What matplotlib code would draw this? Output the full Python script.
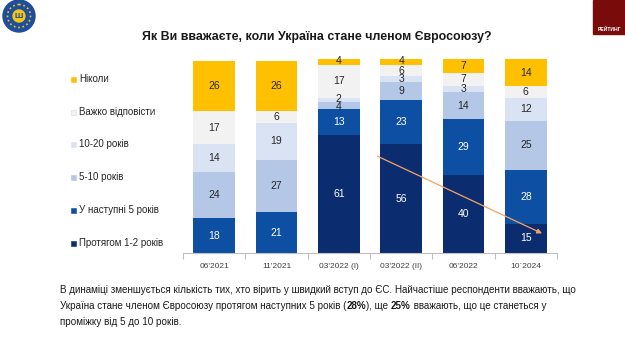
import matplotlib.pyplot as plt
import numpy as np
from matplotlib.patches import Rectangle, Circle

plt.rcParams['font.family'] = ['Liberation Sans', 'DejaVu Sans']

# Data
periods = ["06'2021", "11'2021", "03'2022 (I)", "03'2022 (II)", "06'2022", "10`2024"]
series_names = ['Протягом 1-2 років', 'У наступні 5 років', '5-10 років',
                '10-20 років', 'Важко відповісти', 'Ніколи']
within_1_2 = [0, 0, 61, 56, 40, 15]
next_5 = [18, 21, 13, 23, 29, 28]
years_5_10 = [24, 27, 4, 9, 14, 25]
years_10_20 = [14, 19, 2, 3, 3, 12]
hard_to_say = [17, 6, 17, 6, 7, 6]
never = [26, 26, 4, 4, 7, 14]

values = [within_1_2, next_5, years_5_10, years_10_20, hard_to_say, never]
colors = ['#0B2D70', '#0D4FA3', '#B4C7E7', '#DAE3F3', '#F2F2F2', '#FFC000']
label_colors = ['white', 'white', '#262626', '#262626', '#262626', '#262626']

W, H = 625, 342
fig = plt.figure(figsize=(W / 100, H / 100), dpi=100)

# main bar axes placed in pixel terms
left, right, top, bottom = 183, 557, 59, 253
ax = fig.add_axes([left / W, 1 - bottom / H, (right - left) / W, (bottom - top) / H])

x = np.arange(len(periods))
base = np.zeros(len(periods))
for vals, col, lc in zip(values, colors, label_colors):
    vals = np.array(vals, dtype=float)
    ax.bar(x, vals, bottom=base, width=0.67, color=col, edgecolor='none')
    for xi, b, v in zip(x, base, vals):
        if v > 0:
            # very thin neighbouring segments: spread labels a little, as in the source
            nudge = 0
            if v <= 4 and b + v < 85:
                nudge = -0.8 if col == '#B4C7E7' else 0.6
            ax.text(xi, b + v / 2 + nudge, f'{int(v)}', ha='center', va='center',
                    fontsize=7.5, color=lc)
    base += vals

ax.set_xlim(-0.5, len(periods) - 0.5)
ax.set_ylim(0, 100)
ax.set_yticks([])
for s in ['top', 'right', 'left']:
    ax.spines[s].set_visible(False)
ax.spines['bottom'].set_color('#BFBFBF')
ax.spines['bottom'].set_linewidth(0.8)
ax.set_xticks(x)
ax.set_xticklabels(periods, fontsize=6, color='#404040')
ax.tick_params(axis='x', which='major', length=0, pad=7)
ax.set_xticks(np.arange(-0.5, len(periods)), minor=True)
ax.tick_params(axis='x', which='minor', length=4, color='#BFBFBF', width=0.8)

# trend arrow
ax.annotate('', xy=(5.3, 9.5), xytext=(2.58, 50.5),
            arrowprops=dict(arrowstyle='-|>', color='#F4A460', lw=0.9,
                            mutation_scale=7), annotation_clip=False)

# overlay axes in pixel coordinates for text and logos
ov = fig.add_axes([0, 0, 1, 1], zorder=-1)
ov.set_xlim(0, W)
ov.set_ylim(H, 0)
ov.axis('off')

ov.text(317, 37, 'Як Ви вважаєте, коли Україна стане членом Євросоюзу?',
        ha='center', va='center', fontsize=8.9, fontweight='bold', color='#1a1a1a')

# legend
legend_y = [79, 112, 144, 177, 210, 243]
for name, col, ly in zip(series_names[::-1], colors[::-1], legend_y):
    ov.add_patch(Rectangle((71, ly - 2.5), 5, 5, color=col,
                           ec='#D9D9D9' if col == '#F2F2F2' else col, lw=0.4))
    ov.text(79, ly, name, ha='left', va='center', fontsize=7, color='#262626')

# logos
ov.add_patch(Circle((19, 16), 16, color='#1F4E9A'))
ov.add_patch(Circle((19, 16), 11.5, fill=False, ec='#F5C518', lw=1.2, ls=':'))
ov.add_patch(Circle((19, 16), 6, color='#F5C518'))
ov.text(19, 16.5, 'Ш', ha='center', va='center', fontsize=6, color='#1F4E9A',
        fontweight='bold')
ov.add_patch(Rectangle((593, 0), 32, 34, color='#7A0B0B'))
ov.text(609, 29, 'РЕЙТИНГ', ha='center', va='center', fontsize=3.6,
        color='white', fontweight='bold')


# bottom text with bold fragments
def line(parts, x0, y0, size=7.1):
    prev = None
    for txt, bold in parts:
        kw = dict(fontsize=size, color='#1a1a1a', va='baseline', ha='left',
                  fontweight='bold' if bold else 'normal')
        if prev is None:
            prev = ov.text(x0, y0, txt, **kw)
        else:
            prev = ov.annotate(txt, xy=(1, y0), xycoords=(prev, 'data'), **kw)


line([('В динаміці зменшується кількість тих, хто вірить у швидкий вступ до ЄС. '
       'Найчастіше респонденти вважають, що', False)], 60, 293)
line([('Україна стане членом Євросоюзу протягом наступних 5 років (', False),
      ('28%', True), ('), ще ', False), ('25%', True),
      (' вважають, що це станеться у', False)], 60, 309)
line([('проміжку від 5 до 10 років.', False)], 60, 325)

fig.savefig('out.png', dpi=100)
